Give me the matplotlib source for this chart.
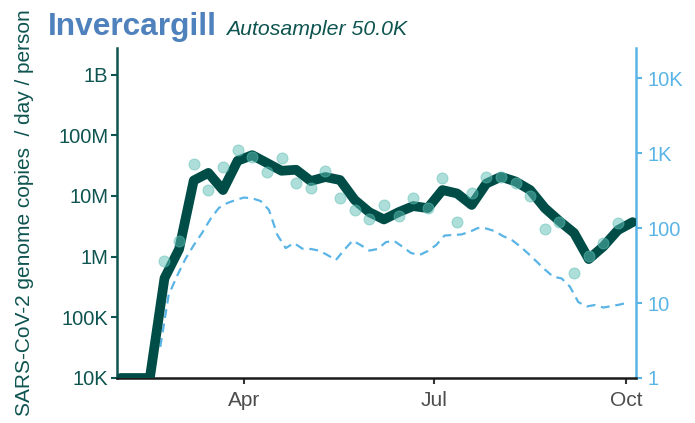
import matplotlib
matplotlib.use("Agg")
import matplotlib.pyplot as plt
import matplotlib.ticker as mticker
import pandas as pd

plt.rcParams['font.family'] = ['Liberation Sans', 'DejaVu Sans']

# Weekly wastewater load (smoothed), genome copies / day / person
ww_dates = pd.date_range("2022-02-01", periods=36, freq="7D")
ww_smooth = [1e4, 1e4, 1e4, 4.4e5, 1.33e6, 1.8e7, 2.4e7, 1.25e7, 3.8e7,
             4.7e7, 3.5e7, 2.6e7, 2.7e7, 1.76e7, 2.05e7, 1.83e7, 8.6e6, 5.4e6,
             4.1e6, 5.4e6, 6.8e6, 6.3e6, 1.25e7, 1.1e7, 7.1e6, 1.6e7, 2.07e7,
             1.73e7, 1.25e7, 6.3e6, 3.85e6, 2.45e6, 9.1e5, 1.47e6, 2.74e6, 3.7e6]

# Individual weekly samples
sample_dates = pd.date_range("2022-02-22", periods=32, freq="7D")
sample_vals = [8.5e5, 1.8e6, 3.4e7, 1.27e7, 3.05e7, 5.7e7, 4.4e7, 2.5e7,
               4.2e7, 1.65e7, 1.35e7, 2.6e7, 9.2e6, 5.9e6, 4.1e6, 7.1e6,
               4.7e6, 9.1e6, 6.25e6, 1.95e7, 3.7e6, 1.13e7, 2.07e7, 2.07e7,
               1.61e7, 1.0e7, 2.8e6, 3.76e6, 5.4e5, 1.02e6, 1.69e6, 3.54e6]

# Reported cases (right axis)
case_dates = pd.date_range("2022-02-20", periods=57, freq="4D")
cases = [2.6, 12.8, 22.9, 38.6, 59, 86, 132, 185, 215, 236, 255, 249, 229,
         174, 81, 54, 63, 53, 52.5, 50, 43.6, 37.4, 51, 68, 59, 50, 52.5, 65,
         67, 56, 46.4, 43.6, 49.3, 59.3, 79.4, 80.7, 82, 89, 100, 98.4, 91, 78,
         70, 57.5, 45.7, 35.8, 28, 22.4, 21.3, 16.5, 10.3, 9.0, 9.4, 8.7, 9.1,
         9.55, 10.2]

left_ticks = [1e4, 1e5, 1e6, 1e7, 1e8, 1e9]
left_labels = ["10K", "100K", "1M", "10M", "100M", "1B"]
right_ticks = [1, 10, 100, 1e3, 1e4]
right_labels = ["1", "10", "100", "1K", "10K"]
month_ticks = ["2022-04-01", "2022-07-01", "2022-10-01"]
month_labels = ["Apr", "Jul", "Oct"]

DARK = "#004D47"
TEAL_PT = "#5FBFB5"
BLUE = "#5AB4E5"

fig = plt.figure(figsize=(6.95, 4.23), dpi=100)
ax = fig.add_axes([0.169, 0.1064, 0.746, 0.780])
ax2 = ax.twinx()

ax2.plot(case_dates, cases, color=BLUE, lw=1.6, dashes=(4, 2.6))
ax2.set_yscale("log")
ax2.set_ylim(1, 10 ** 4.4)

ax.plot(ww_dates, ww_smooth, color=DARK, lw=7, solid_joinstyle="round",
        solid_capstyle="round", zorder=3)
ax.scatter(sample_dates, sample_vals, s=62, color=TEAL_PT, alpha=0.5,
           edgecolors=TEAL_PT, linewidths=0.8, zorder=4)
ax.set_yscale("log")
ax.set_ylim(1e4, 10 ** 9.437)
ax.set_xlim(pd.Timestamp("2022-01-30 12:00"), pd.Timestamp("2022-10-05 14:00"))

ax.set_zorder(ax2.get_zorder() + 1)
ax.patch.set_visible(False)

ax.yaxis.set_major_locator(mticker.FixedLocator(left_ticks))
ax.yaxis.set_major_formatter(mticker.FixedFormatter(left_labels))
ax.yaxis.set_minor_locator(mticker.NullLocator())
ax2.yaxis.set_major_locator(mticker.FixedLocator(right_ticks))
ax2.yaxis.set_major_formatter(mticker.FixedFormatter(right_labels))
ax2.yaxis.set_minor_locator(mticker.NullLocator())
ax.set_xticks([pd.Timestamp(d) for d in month_ticks])
ax.set_xticklabels(month_labels)

for a in (ax, ax2):
    a.spines["top"].set_visible(False)
ax.spines["right"].set_visible(False)
ax2.spines["left"].set_visible(False)
ax2.spines["bottom"].set_visible(False)
ax.spines["left"].set_color("#0E5450")
ax.spines["left"].set_linewidth(1.8)
ax.spines["bottom"].set_color("#1a1a1a")
ax.spines["bottom"].set_linewidth(1.8)
ax2.spines["right"].set_color(BLUE)
ax2.spines["right"].set_linewidth(1.8)

ax.tick_params(axis="y", colors="#0E5450", labelcolor="#0E5450", labelsize=14.5,
               length=4, width=1.5, pad=2.5)
ax.tick_params(axis="x", colors="#333333", labelcolor="#4D4D4D", labelsize=15,
               length=4, width=1.5, pad=5.5)
ax2.tick_params(axis="y", colors=BLUE, labelcolor=BLUE, labelsize=14.5,
                length=4, width=1.5, pad=4)

fig.text(0.035, 0.497, "SARS-CoV-2 genome copies  / day / person", rotation=90,
         ha="center", va="center", fontsize=15, color="#0E5450")
fig.text(48 / 695, 1 - 35 / 423, "Invercargill", fontsize=22.8, fontweight="bold",
         color="#4F81BD", ha="left", va="baseline")
fig.text(226 / 695, 1 - 35 / 423, "Autosampler 50.0K", fontsize=15.3, style="italic",
         color="#0E5450", ha="left", va="baseline")

fig.savefig("out.png", dpi=100)
